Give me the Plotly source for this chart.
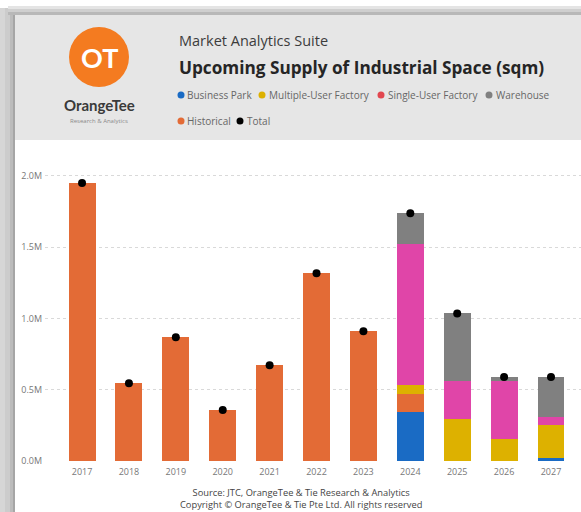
import plotly.graph_objects as go

W, H = 581, 512

years = ["2017", "2018", "2019", "2020", "2021", "2022", "2023", "2024", "2025", "2026", "2027"]

# Supply in sqm, by category
historical = [1950000, 545000, 868000, 358000, 672000, 1317000, 910000, 123000, 0, 0, 0]
business_park = [0, 0, 0, 0, 0, 0, 0, 345000, 0, 0, 24000]
multiple_user = [0, 0, 0, 0, 0, 0, 0, 66000, 293000, 157000, 232000]
single_user = [0, 0, 0, 0, 0, 0, 0, 986000, 267000, 402000, 53000]
warehouse = [0, 0, 0, 0, 0, 0, 0, 219000, 475000, 30000, 281000]
total = [a + b + c + d + e for a, b, c, d, e in
         zip(historical, business_park, multiple_user, single_user, warehouse)]

y_ticks = [0, 500000, 1000000, 1500000, 2000000]
y_tick_text = ["0.0M", "0.5M", "1.0M", "1.5M", "2.0M"]

C_BP = "#1A6BC4"
C_HIST = "#E36B36"
C_MUF = "#DDB100"
C_SUF = "#E045A8"
C_SUF_KEY = "#E2474F"
C_WH = "#808080"

FONT = "Open Sans"


def X(px):
    return px / W


def Y(py):
    return 1 - py / H


fig = go.Figure()

# stacking order from the bottom up
for name, vals, col in [
    ("Business Park", business_park, C_BP),
    ("Historical", historical, C_HIST),
    ("Multiple-User Factory", multiple_user, C_MUF),
    ("Single-User Factory", single_user, C_SUF),
    ("Warehouse", warehouse, C_WH),
]:
    fig.add_trace(go.Bar(x=years, y=vals, name=name, marker_color=col,
                         marker_line_width=0, width=0.575, showlegend=False))

fig.add_trace(go.Scatter(x=years, y=total, name="Total", mode="markers",
                         marker=dict(color="black", size=8), showlegend=False))

shapes = []
# card shadow on the left and top
for x0, x1, col in [(0, 5, "#d6d6d6"), (5, 10, "#cccccc"), (10, 13, "#bcbcbc"), (13, 15, "#a6a6a6")]:
    shapes.append(dict(type="rect", xref="paper", yref="paper", x0=X(x0), x1=X(x1),
                       y0=0, y1=Y(8), fillcolor=col, line_width=0, layer="below"))
for y0, y1, col in [(6, 9, "#e4e4e4"), (9, 12, "#cfcfcf"), (12, 15, "#b8b8b8")]:
    shapes.append(dict(type="rect", xref="paper", yref="paper", x0=X(8), x1=1,
                       y0=Y(y1), y1=Y(y0), fillcolor=col, line_width=0, layer="below"))
# card body and grey header band
shapes.append(dict(type="rect", xref="paper", yref="paper", x0=X(15), x1=1,
                   y0=0, y1=Y(15), fillcolor="white", line_width=0, layer="below"))
shapes.append(dict(type="rect", xref="paper", yref="paper", x0=X(15), x1=1,
                   y0=Y(140), y1=Y(15), fillcolor="#e6e6e6", line_width=0, layer="below"))
# logo disc
shapes.append(dict(type="circle", xref="paper", yref="paper",
                   x0=X(69), x1=X(129), y0=Y(87), y1=Y(27),
                   fillcolor="#F47B20", line_width=0, layer="below"))

annotations = [
    dict(text="<b>OT</b>", x=X(99), y=Y(57), font=dict(family="Lato", size=27, color="white")),
    dict(text="<b>OrangeTee</b>", x=X(99), y=Y(105), font=dict(family="Lato", size=15, color="#3a3a3a")),
    dict(text="Research &amp; Analytics", x=X(99), y=Y(121), font=dict(family=FONT, size=6, color="#8a8a8a")),
    dict(text="Market Analytics Suite", x=X(177), y=Y(40), xanchor="left",
         font=dict(family=FONT, size=14.5, color="#3c3c3c")),
    dict(text="<b>Upcoming Supply of Industrial Space (sqm)</b>", x=X(177), y=Y(67), xanchor="left",
         font=dict(family=FONT, size=17.2, color="#252525")),
    dict(text="Source: JTC, OrangeTee &amp; Tie Research &amp; Analytics<br>"
              "Copyright © OrangeTee &amp; Tie Pte Ltd. All rights reserved",
         x=X(301), y=Y(498.5), borderpad=0,
         font=dict(family=FONT, size=9.3, color="#444444")),
]

legend_items = [
    ("Business Park", C_BP, 181, 95),
    ("Multiple-User Factory", C_MUF, 262, 95),
    ("Single-User Factory", C_SUF_KEY, 381, 95),
    ("Warehouse", C_WH, 489, 95),
    ("Historical", C_HIST, 181, 121),
    ("Total", "black", 240, 121),
]
for label, col, px, py in legend_items:
    shapes.append(dict(type="circle", xref="paper", yref="paper",
                       x0=X(px - 3.5), x1=X(px + 3.5), y0=Y(py + 3.5), y1=Y(py - 3.5),
                       fillcolor=col, line_width=0))
    annotations.append(dict(text=label, x=X(px + 4.5), y=Y(py), xanchor="left",
                            font=dict(family=FONT, size=10, color="#666666")))

for a in annotations:
    a.setdefault("xanchor", "center")
    a.update(xref="paper", yref="paper", yanchor="middle", showarrow=False)

fig.update_layout(
    width=W, height=H,
    margin=dict(l=0, r=0, t=0, b=0, pad=0),
    paper_bgcolor="white",
    plot_bgcolor="rgba(0,0,0,0)",
    barmode="stack",
    bargap=0.425,
    shapes=shapes,
    annotations=annotations,
    font=dict(family=FONT),
    xaxis=dict(domain=[X(45), 1], range=[-0.79, 10.64], type="category",
               tickfont=dict(size=9, color="#777777"), showgrid=False,
               showline=False, zeroline=False, ticks="", ticklabelstandoff=4,
               automargin=False),
    yaxis=dict(domain=[Y(461), Y(160)], range=[0, 2112000],
               tickvals=y_ticks, ticktext=y_tick_text,
               tickfont=dict(size=9, color="#777777"),
               showgrid=True, gridcolor="#d9d9d9", griddash="dot", gridwidth=1,
               zeroline=False, showline=False, ticks="", ticklabelstandoff=2,
               automargin=False),
)

fig.write_html("out.html")
